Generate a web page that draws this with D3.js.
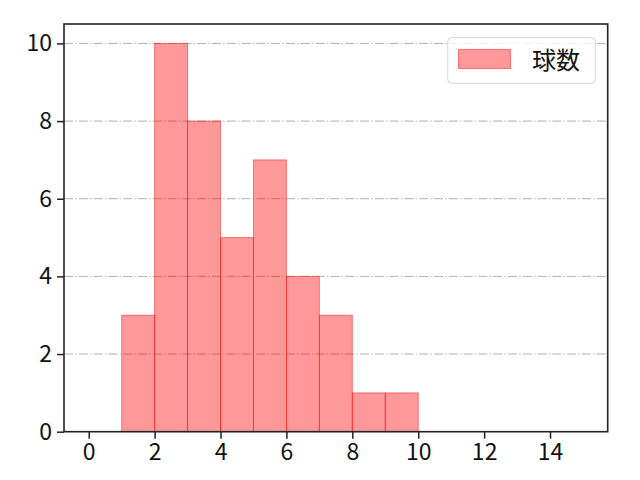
<!DOCTYPE html>
<html>
<head>
<meta charset="utf-8">
<script src="https://cdn.jsdelivr.net/npm/d3@7"></script>
<style>
  body { margin: 0; background: #fff; }
  text { font-family: "Noto Sans CJK JP", "Noto Sans", sans-serif; }
</style>
</head>
<body>
<script>
// histogram bins (left edge, right edge) and counts
const binStart = [1, 2, 3, 4, 5, 6, 7, 8, 9]
const binEnd = [2, 3, 4, 5, 6, 7, 8, 9, 10]
const counts = [3, 10, 8, 5, 7, 4, 3, 1, 1]
const xTicks = [0, 2, 4, 6, 8, 10, 12, 14]
const yTicks = [0, 2, 4, 6, 8, 10]
const seriesName = '球数'

const svgw = 640
const svgh = 480
const padL = 64, padR = 607.7, padT = 24, padB = 431.7

const svg = d3.select('body').append('svg').attr('width', svgw).attr('height', svgh)

const xScale = d3.scaleLinear().domain([-0.75, 15.75]).range([padL, padR])
const yScale = d3.scaleLinear().domain([0, 10.5]).range([padB, padT])

// horizontal grid
svg.append('g')
  .selectAll('line')
  .data(yTicks.filter(d => d > 0))
  .enter()
  .append('line')
  .attr('x1', padL).attr('x2', padR)
  .attr('y1', d => yScale(d)).attr('y2', d => yScale(d))
  .attr('stroke', '#b0b0b0')
  .attr('stroke-width', 1)
  .attr('stroke-dasharray', '9,2.2,1.4,2.2')

// bars
svg.append('g')
  .selectAll('rect')
  .data(counts)
  .enter()
  .append('rect')
  .attr('x', (d, i) => xScale(binStart[i]))
  .attr('width', (d, i) => xScale(binEnd[i]) - xScale(binStart[i]))
  .attr('y', d => yScale(d))
  .attr('height', d => padB - yScale(d))
  .attr('fill', 'rgba(255,0,0,0.4)')
  .attr('stroke', 'rgba(255,0,0,0.45)')
  .attr('stroke-width', 1)

// axes
const xAxis = d3.axisBottom(xScale).tickValues(xTicks).tickSizeOuter(0).tickSize(7).tickPadding(5)
const yAxis = d3.axisLeft(yScale).tickValues(yTicks).tickSizeOuter(0).tickSize(7).tickPadding(5)

const gx = svg.append('g').attr('transform', `translate(0,${padB})`).call(xAxis)
const gy = svg.append('g').attr('transform', `translate(${padL},0)`).call(yAxis)

for (const g of [gx, gy]) {
  g.select('.domain').remove()
  g.selectAll('.tick line').attr('stroke', '#222').attr('stroke-width', 1.5)
  g.selectAll('.tick text').attr('fill', '#111').style('font-size', '23px')
}

// frame
svg.append('rect')
  .attr('x', padL).attr('y', padT)
  .attr('width', padR - padL).attr('height', padB - padT)
  .attr('fill', 'none')
  .attr('stroke', '#222')
  .attr('stroke-width', 1.6)

// legend
const lg = svg.append('g')
lg.append('rect')
  .attr('x', 447.7).attr('y', 37.7).attr('width', 147.6).attr('height', 45.6)
  .attr('rx', 4)
  .attr('fill', 'rgba(255,255,255,0.8)')
  .attr('stroke', '#d5d5d5')
  .attr('stroke-width', 1)
lg.append('rect')
  .attr('x', 458.5).attr('y', 49.5).attr('width', 52).attr('height', 19)
  .attr('fill', 'rgba(255,0,0,0.4)')
  .attr('stroke', 'rgba(255,0,0,0.45)')
lg.append('text')
  .attr('x', 532).attr('y', 68.5)
  .style('font-size', '24px')
  .attr('fill', '#111')
  .text(seriesName)
</script>
</body>
</html>
